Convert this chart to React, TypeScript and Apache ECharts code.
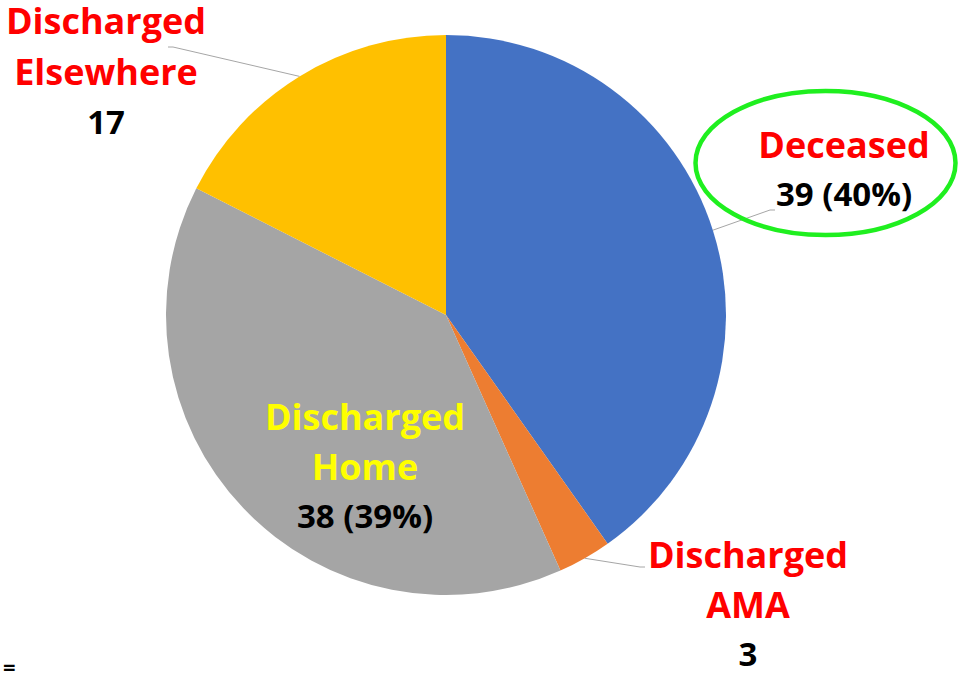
import React, { useEffect, useRef } from 'react';
import * as echarts from 'echarts';

const names = ['Deceased', 'Discharged AMA', 'Discharged Home', 'Discharged Elsewhere'];
const values = [39, 3, 38, 17];
const showPercent = [true, false, true, false];
const colors = ['#4472C4', '#ED7D31', '#A5A5A5', '#FFC000'];
const nameLines = [['Deceased'], ['Discharged', 'AMA'], ['Discharged', 'Home'], ['Discharged', 'Elsewhere']];
const nameStyle = ['r', 'r', 'y', 'r'];

const labelPos: number[][] = [[844, 168], [748, 603], [365, 465], [106, 70]];
const lineEnds: (number[][] | null)[] = [
  [[770, 210], [775, 210]],
  [[640, 567], [645, 567]],
  null,
  [[173, 47], [168, 47]],
];

export default function App() {
  const ref = useRef<HTMLDivElement>(null);
  useEffect(() => {
    if (!ref.current) return;
    const chart = echarts.init(ref.current, null, { renderer: 'svg' });
    const total = values.reduce((a, b) => a + b, 0);
    const font = 'Open Sans';
    const nameBase = { fontSize: 36, fontWeight: 'bold', fontFamily: font, align: 'center' };
    const valBase = { color: '#000000', fontSize: 33, fontWeight: 'bold', fontFamily: font, align: 'center' };
    chart.setOption({
      animation: false,
      backgroundColor: '#fff',
      graphic: [
        {
          type: 'ellipse',
          shape: { cx: 825.5, cy: 163, rx: 130, ry: 72 },
          style: { fill: 'none', stroke: '#1FEF1F', lineWidth: 4.5 },
          z: 10,
        },
        {
          type: 'text',
          left: 3,
          top: 655,
          style: { text: '=', fontSize: 22, lineHeight: 20, fontWeight: 'bold', fill: '#000', fontFamily: font },
        },
      ],
      series: [
        {
          type: 'pie',
          center: [446, 315],
          radius: 280,
          startAngle: 90,
          clockwise: true,
          avoidLabelOverlap: false,
          itemStyle: { borderWidth: 0 },
          emphasis: { disabled: true },
          data: names.map((n, i) => ({
            name: n,
            value: values[i],
            itemStyle: { color: colors[i] },
            label: i === 2 ? { position: 'inside' } : { position: 'outside' },
            labelLine: { show: i !== 2 },
          })),
          label: {
            show: true,
            fontFamily: font,
            formatter: (p: any) => {
              const i = p.dataIndex;
              const v = values[i];
              const vt = showPercent[i] ? `${v} (${Math.round((v / total) * 100)}%)` : `${v}`;
              if (i === 3) {
                const ls = nameLines[i];
                return `{ea|${ls[0]}}\n{eb|${ls[1]}}\n{ec|${vt}}`;
              }
              const st = nameStyle[i];
              return nameLines[i].map((l) => `{${st}|${l}}`).join('\n') + `\n{v|${vt}}`;
            },
            rich: {
              r: { ...nameBase, color: '#FF0000', lineHeight: 50 },
              y: { ...nameBase, color: '#FFFF00', lineHeight: 50 },
              v: { ...valBase, lineHeight: 48 },
              ea: { ...nameBase, color: '#FF0000', lineHeight: 40 },
              eb: { ...nameBase, color: '#FF0000', lineHeight: 62 },
              ec: { ...valBase, lineHeight: 38 },
            },
          },
          labelLine: {
            show: true,
            lineStyle: { color: '#A6A6A6', width: 1 },
          },
          labelLayout: (params: any) => {
            const i = params.dataIndex;
            const out: any = {
              x: labelPos[i][0],
              y: labelPos[i][1],
              align: 'center',
              verticalAlign: 'middle',
            };
            const ends = lineEnds[i];
            if (ends && params.labelLinePoints) {
              out.labelLinePoints = [params.labelLinePoints[0], ends[0], ends[1]];
            }
            return out;
          },
        },
      ],
    });
    return () => chart.dispose();
  }, []);
  return <div ref={ref} style={{ position: 'fixed', left: 0, top: 0, width: 961, height: 675 }} />;
}
